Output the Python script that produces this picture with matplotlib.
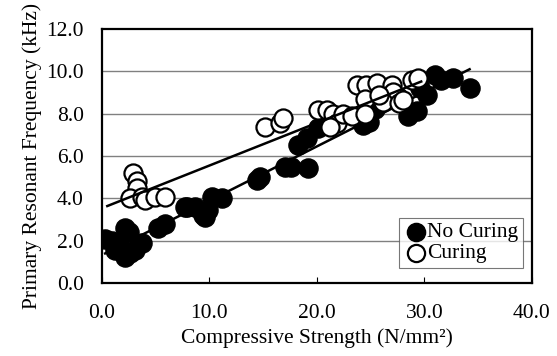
import numpy as np
import matplotlib
matplotlib.use('Agg')
import matplotlib.pyplot as plt

plt.rcParams['font.family'] = ['Liberation Serif', 'DejaVu Serif']

# No Curing (filled)
nc_x = [0.3, 0.9, 1.2, 1.6, 2.1, 2.1, 2.5, 2.6, 3.1, 3.7, 5.2, 5.9, 7.7, 7.9, 8.7, 9.4,
        9.6, 9.9, 10.2, 11.2, 14.4, 14.7, 17.0, 17.6, 19.2, 18.2, 19.1, 20.1, 21.3,
        24.3, 24.8, 25.4, 25.6, 27.5, 28.5, 29.3, 30.2, 29.6, 31.0, 31.5, 32.7, 34.2]
nc_y = [2.08, 2.0, 1.56, 1.8, 1.23, 2.6, 2.4, 1.4, 1.56, 1.9, 2.6, 2.8, 3.6, 3.6, 3.6, 3.2,
        3.1, 3.45, 4.06, 4.0, 4.87, 5.0, 5.48, 5.5, 5.43, 6.5, 6.85, 7.3, 7.6,
        7.46, 7.6, 8.2, 8.6, 8.8, 7.9, 8.1, 8.9, 9.2, 9.8, 9.6, 9.7, 9.2]

# Curing (open)
c_x = [2.9, 3.3, 3.3, 2.6, 3.7, 4.0, 4.9, 5.9, 15.2, 16.6, 16.8, 20.1, 20.9, 21.5,
       21.9, 21.2, 22.4, 23.3, 23.7, 24.6, 25.6, 27.0, 27.1, 24.5, 24.5, 26.1, 25.8,
       27.6, 28.0, 28.8, 29.4]
c_y = [5.2, 4.8, 4.5, 4.0, 4.06, 3.9, 4.06, 4.06, 7.37, 7.56, 7.8, 8.17, 8.17, 8.0,
       7.56, 7.37, 8.0, 7.9, 9.35, 9.35, 9.45, 9.35, 9.0, 8.7, 8.0, 8.55, 8.9,
       8.5, 8.64, 9.6, 9.7]

x_ticks = [0, 10, 20, 30, 40]
y_ticks = [0, 2, 4, 6, 8, 10, 12]

fig = plt.figure(figsize=(5.57, 3.56), dpi=100)
ax = fig.add_axes([0.183, 0.205, 0.772, 0.714])

for v in y_ticks[1:-1]:
    ax.axhline(v, color='#808080', lw=1, zorder=0)

# trend lines
p_nc = np.polyfit(nc_x, nc_y, 1)
xs = np.array([0.3, max(nc_x)])
ax.plot(xs, np.polyval(p_nc, xs), color='black', lw=1.8, zorder=1)

ax.scatter(nc_x, nc_y, s=190, c='black', edgecolors='black', linewidths=1,
           zorder=2, label='No Curing')
ax.scatter(c_x, c_y, s=170, c='white', edgecolors='black', linewidths=1.6,
           zorder=3, label='Curing')

p_c = np.polyfit(c_x, c_y, 1)
xs = np.array([0.5, max(c_x) + 0.3])
ax.plot(xs, np.polyval(p_c, xs) - 0.15, color='black', lw=1.8, zorder=4)

ax.set_xlim(0, 40)
ax.set_ylim(0, 12)
ax.set_xticks(x_ticks)
ax.set_xticklabels(['%.1f' % v for v in x_ticks])
ax.set_yticks(y_ticks)
ax.set_yticklabels(['%.1f' % v for v in y_ticks])
ax.tick_params(axis='x', direction='in', length=4, labelsize=15.5, pad=15)
ax.tick_params(axis='y', length=0, labelsize=15.5, pad=13)
for s in ax.spines.values():
    s.set_linewidth(1.6)

ax.set_xlabel('Compressive Strength (N/mm\u00b2)', fontsize=15.5, labelpad=4)
ax.set_ylabel('Primary Resonant Frequency (kHz)', fontsize=15.5, labelpad=3)

leg = ax.legend(loc='lower right', bbox_to_anchor=(0.979, 0.06), fontsize=15.5,
                frameon=True, fancybox=False, edgecolor='#555555',
                handletextpad=0.0, borderpad=0.2, labelspacing=0.05,
                handlelength=1.1, borderaxespad=0, markerscale=0.95)
leg.get_frame().set_linewidth(0.8)

fig.savefig('out.png', dpi=100)
